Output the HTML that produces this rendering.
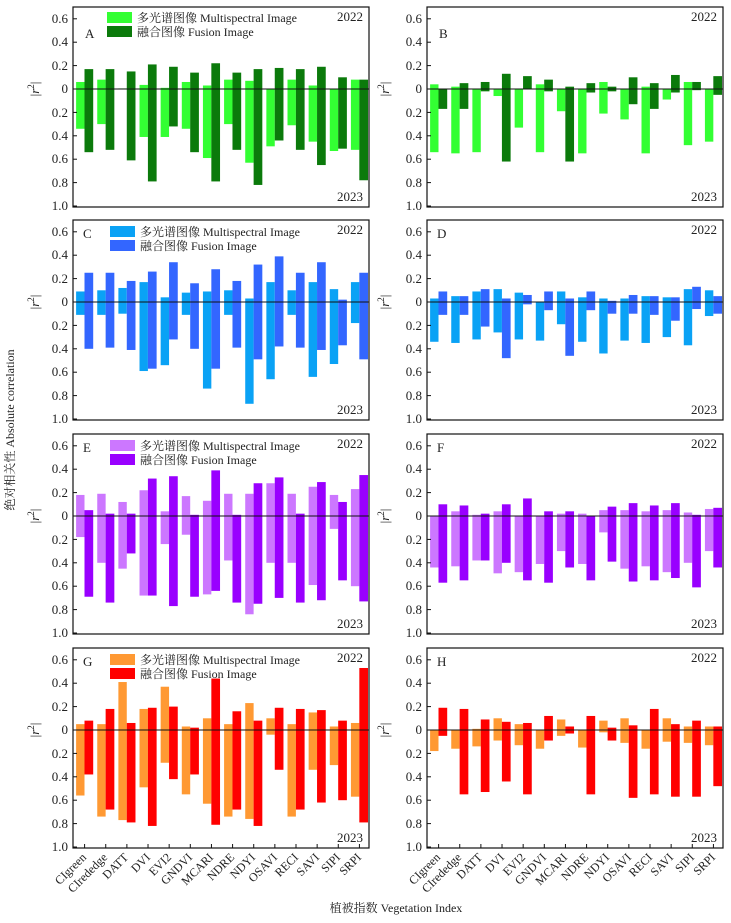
<!DOCTYPE html>
<html><head><meta charset="utf-8">
<style>
html,body{margin:0;padding:0;background:#fff;}
svg{display:block;font-family:"Liberation Serif","Noto Serif CJK SC",serif;}
text{fill:#222;}
.t text{font-size:13px;}
</style></head><body>
<svg id="s" width="731" height="923" viewBox="0 0 731 923" xmlns="http://www.w3.org/2000/svg">
<g id="bars"></g>
<g font-size="12">
<text transform="translate(14,430) rotate(-90)" text-anchor="middle" font-size="12">绝对相关性 Absolute correlation</text>
<text x="396" y="912" text-anchor="middle" font-size="12">植被指数 Vegetation Index</text>
</g>
<g id="panels" font-size="12">
<!-- A -->
<g transform="translate(73,7)">
<g class="t"><text x="-5" y="16" text-anchor="end">0.6</text><text x="-5" y="39" text-anchor="end">0.4</text><text x="-5" y="63" text-anchor="end">0.2</text><text x="-5" y="86" text-anchor="end">0</text><text x="-5" y="110" text-anchor="end">0.2</text><text x="-5" y="133" text-anchor="end">0.4</text><text x="-5" y="156" text-anchor="end">0.6</text><text x="-5" y="180" text-anchor="end">0.8</text><text x="-5" y="203" text-anchor="end">1.0</text></g>
<text transform="translate(-34,82) rotate(-90)" text-anchor="middle" font-size="13">|<tspan font-style="italic">r</tspan><tspan dy="-5" font-size="9">2</tspan><tspan dy="5">|</tspan></text>
<text x="12" y="31" font-size="13">A</text><text x="290" y="14" text-anchor="end" font-size="13">2022</text><text x="290" y="194" text-anchor="end" font-size="13">2023</text>
<rect x="34" y="5" width="25" height="11" fill="#33ff33"/><rect x="34" y="19" width="25" height="11" fill="#0b7a0b"/>
<text x="64" y="15">多光谱图像 Multispectral Image</text><text x="64" y="29">融合图像 Fusion Image</text>
</g>
<!-- B -->
<g transform="translate(427,7)">
<g class="t"><text x="-5" y="16" text-anchor="end">0.6</text><text x="-5" y="39" text-anchor="end">0.4</text><text x="-5" y="63" text-anchor="end">0.2</text><text x="-5" y="86" text-anchor="end">0</text><text x="-5" y="110" text-anchor="end">0.2</text><text x="-5" y="133" text-anchor="end">0.4</text><text x="-5" y="156" text-anchor="end">0.6</text><text x="-5" y="180" text-anchor="end">0.8</text><text x="-5" y="203" text-anchor="end">1.0</text></g>
<text transform="translate(-38,82) rotate(-90)" text-anchor="middle" font-size="13">|<tspan font-style="italic">r</tspan><tspan dy="-5" font-size="9">2</tspan><tspan dy="5">|</tspan></text>
<text x="12" y="31" font-size="13">B</text><text x="290" y="14" text-anchor="end" font-size="13">2022</text><text x="290" y="194" text-anchor="end" font-size="13">2023</text>
</g>
<!-- C -->
<g transform="translate(73,220)">
<g class="t"><text x="-5" y="16" text-anchor="end">0.6</text><text x="-5" y="39" text-anchor="end">0.4</text><text x="-5" y="63" text-anchor="end">0.2</text><text x="-5" y="86" text-anchor="end">0</text><text x="-5" y="110" text-anchor="end">0.2</text><text x="-5" y="133" text-anchor="end">0.4</text><text x="-5" y="156" text-anchor="end">0.6</text><text x="-5" y="180" text-anchor="end">0.8</text><text x="-5" y="203" text-anchor="end">1.0</text></g>
<text transform="translate(-34,82) rotate(-90)" text-anchor="middle" font-size="13">|<tspan font-style="italic">r</tspan><tspan dy="-5" font-size="9">2</tspan><tspan dy="5">|</tspan></text>
<text x="10" y="18" font-size="13">C</text><text x="290" y="14" text-anchor="end" font-size="13">2022</text><text x="290" y="194" text-anchor="end" font-size="13">2023</text>
<rect x="37" y="6" width="25" height="11" fill="#0aa2f5"/><rect x="37" y="20" width="25" height="11" fill="#3366ff"/>
<text x="67" y="16">多光谱图像 Multispectral Image</text><text x="67" y="30">融合图像 Fusion Image</text>
</g>
<!-- D -->
<g transform="translate(427,220)">
<g class="t"><text x="-5" y="16" text-anchor="end">0.6</text><text x="-5" y="39" text-anchor="end">0.4</text><text x="-5" y="63" text-anchor="end">0.2</text><text x="-5" y="86" text-anchor="end">0</text><text x="-5" y="110" text-anchor="end">0.2</text><text x="-5" y="133" text-anchor="end">0.4</text><text x="-5" y="156" text-anchor="end">0.6</text><text x="-5" y="180" text-anchor="end">0.8</text><text x="-5" y="203" text-anchor="end">1.0</text></g>
<text transform="translate(-38,82) rotate(-90)" text-anchor="middle" font-size="13">|<tspan font-style="italic">r</tspan><tspan dy="-5" font-size="9">2</tspan><tspan dy="5">|</tspan></text>
<text x="10" y="18" font-size="13">D</text><text x="290" y="14" text-anchor="end" font-size="13">2022</text><text x="290" y="194" text-anchor="end" font-size="13">2023</text>
</g>
<!-- E -->
<g transform="translate(73,434)">
<g class="t"><text x="-5" y="16" text-anchor="end">0.6</text><text x="-5" y="39" text-anchor="end">0.4</text><text x="-5" y="63" text-anchor="end">0.2</text><text x="-5" y="86" text-anchor="end">0</text><text x="-5" y="110" text-anchor="end">0.2</text><text x="-5" y="133" text-anchor="end">0.4</text><text x="-5" y="156" text-anchor="end">0.6</text><text x="-5" y="180" text-anchor="end">0.8</text><text x="-5" y="203" text-anchor="end">1.0</text></g>
<text transform="translate(-34,82) rotate(-90)" text-anchor="middle" font-size="13">|<tspan font-style="italic">r</tspan><tspan dy="-5" font-size="9">2</tspan><tspan dy="5">|</tspan></text>
<text x="10" y="18" font-size="13">E</text><text x="290" y="14" text-anchor="end" font-size="13">2022</text><text x="290" y="194" text-anchor="end" font-size="13">2023</text>
<rect x="37" y="6" width="25" height="11" fill="#cc77ff"/><rect x="37" y="20" width="25" height="11" fill="#9900ff"/>
<text x="67" y="16">多光谱图像 Multispectral Image</text><text x="67" y="30">融合图像 Fusion Image</text>
</g>
<!-- F -->
<g transform="translate(427,434)">
<g class="t"><text x="-5" y="16" text-anchor="end">0.6</text><text x="-5" y="39" text-anchor="end">0.4</text><text x="-5" y="63" text-anchor="end">0.2</text><text x="-5" y="86" text-anchor="end">0</text><text x="-5" y="110" text-anchor="end">0.2</text><text x="-5" y="133" text-anchor="end">0.4</text><text x="-5" y="156" text-anchor="end">0.6</text><text x="-5" y="180" text-anchor="end">0.8</text><text x="-5" y="203" text-anchor="end">1.0</text></g>
<text transform="translate(-38,82) rotate(-90)" text-anchor="middle" font-size="13">|<tspan font-style="italic">r</tspan><tspan dy="-5" font-size="9">2</tspan><tspan dy="5">|</tspan></text>
<text x="10" y="18" font-size="13">F</text><text x="290" y="14" text-anchor="end" font-size="13">2022</text><text x="290" y="194" text-anchor="end" font-size="13">2023</text>
</g>
<!-- G -->
<g transform="translate(73,648)">
<g class="t"><text x="-5" y="16" text-anchor="end">0.6</text><text x="-5" y="39" text-anchor="end">0.4</text><text x="-5" y="63" text-anchor="end">0.2</text><text x="-5" y="86" text-anchor="end">0</text><text x="-5" y="110" text-anchor="end">0.2</text><text x="-5" y="133" text-anchor="end">0.4</text><text x="-5" y="156" text-anchor="end">0.6</text><text x="-5" y="180" text-anchor="end">0.8</text><text x="-5" y="203" text-anchor="end">1.0</text></g>
<text transform="translate(-34,82) rotate(-90)" text-anchor="middle" font-size="13">|<tspan font-style="italic">r</tspan><tspan dy="-5" font-size="9">2</tspan><tspan dy="5">|</tspan></text>
<text x="10" y="18" font-size="13">G</text><text x="290" y="14" text-anchor="end" font-size="13">2022</text><text x="290" y="194" text-anchor="end" font-size="13">2023</text>
<rect x="37" y="6" width="25" height="11" fill="#ff9933"/><rect x="37" y="20" width="25" height="11" fill="#ff0000"/>
<text x="67" y="16">多光谱图像 Multispectral Image</text><text x="67" y="30">融合图像 Fusion Image</text>
</g>
<!-- H -->
<g transform="translate(427,648)">
<g class="t"><text x="-5" y="16" text-anchor="end">0.6</text><text x="-5" y="39" text-anchor="end">0.4</text><text x="-5" y="63" text-anchor="end">0.2</text><text x="-5" y="86" text-anchor="end">0</text><text x="-5" y="110" text-anchor="end">0.2</text><text x="-5" y="133" text-anchor="end">0.4</text><text x="-5" y="156" text-anchor="end">0.6</text><text x="-5" y="180" text-anchor="end">0.8</text><text x="-5" y="203" text-anchor="end">1.0</text></g>
<text transform="translate(-38,82) rotate(-90)" text-anchor="middle" font-size="13">|<tspan font-style="italic">r</tspan><tspan dy="-5" font-size="9">2</tspan><tspan dy="5">|</tspan></text>
<text x="10" y="18" font-size="13">H</text><text x="290" y="14" text-anchor="end" font-size="13">2022</text><text x="290" y="194" text-anchor="end" font-size="13">2023</text>
</g>
<g font-size="12" text-anchor="end">
<text transform="translate(87,858) rotate(-45)">CIgreen</text>
<text transform="translate(108,858) rotate(-45)">CIrededge</text>
<text transform="translate(129,858) rotate(-45)">DATT</text>
<text transform="translate(151,858) rotate(-45)">DVI</text>
<text transform="translate(172,858) rotate(-45)">EVI2</text>
<text transform="translate(193,858) rotate(-45)">GNDVI</text>
<text transform="translate(214,858) rotate(-45)">MCARI</text>
<text transform="translate(235,858) rotate(-45)">NDRE</text>
<text transform="translate(256,858) rotate(-45)">NDYI</text>
<text transform="translate(278,858) rotate(-45)">OSAVI</text>
<text transform="translate(299,858) rotate(-45)">RECI</text>
<text transform="translate(320,858) rotate(-45)">SAVI</text>
<text transform="translate(341,858) rotate(-45)">SIPI</text>
<text transform="translate(362,858) rotate(-45)">SRPI</text>
<text transform="translate(441,858) rotate(-45)">CIgreen</text>
<text transform="translate(462,858) rotate(-45)">CIrededge</text>
<text transform="translate(483,858) rotate(-45)">DATT</text>
<text transform="translate(505,858) rotate(-45)">DVI</text>
<text transform="translate(526,858) rotate(-45)">EVI2</text>
<text transform="translate(547,858) rotate(-45)">GNDVI</text>
<text transform="translate(568,858) rotate(-45)">MCARI</text>
<text transform="translate(589,858) rotate(-45)">NDRE</text>
<text transform="translate(610,858) rotate(-45)">NDYI</text>
<text transform="translate(632,858) rotate(-45)">OSAVI</text>
<text transform="translate(653,858) rotate(-45)">RECI</text>
<text transform="translate(674,858) rotate(-45)">SAVI</text>
<text transform="translate(695,858) rotate(-45)">SIPI</text>
<text transform="translate(716,858) rotate(-45)">SRPI</text>
</g>
</g>
</svg>
<script>
var P=[
[73,7,"#33ff33","#0b7a0b",[[.06,.34,.17,.54],[.08,.30,.17,.52],[.005,0,.15,.61],[.035,.41,.21,.79],[.01,.41,.19,.32],[.06,.34,.14,.54],[.03,.59,.22,.79],[.08,.30,.14,.52],[.07,.63,.17,.82],[0,.49,.18,.44],[.08,.31,.17,.52],[.03,.45,.19,.65],[0,.53,.10,.51],[.08,.52,.08,.78]]],
[427,7,"#33ff33","#0b7a0b",[[.04,.54,0,.17],[.02,.55,.05,.17],[0,.54,.06,.02],[0,.06,.13,.62],[0,.33,.11,0],[.04,.54,.08,.02],[0,.19,.02,.62],[0,.55,.05,.03],[.06,.21,.02,.02],[0,.26,.10,.13],[.02,.55,.05,.17],[0,.09,.12,.03],[.06,.48,.06,.01],[0,.45,.11,.05]]],
[73,220,"#0aa2f5","#3366ff",[[.09,.11,.25,.40],[.10,.11,.25,.39],[.12,.10,.18,.41],[.17,.59,.26,.57],[.04,.54,.34,.32],[.08,.11,.16,.40],[.09,.74,.28,.57],[.10,.11,.18,.39],[.03,.87,.32,.49],[.17,.66,.39,.38],[.10,.11,.25,.39],[.17,.64,.34,.41],[.11,.53,.02,.37],[.17,.18,.25,.49]]],
[427,220,"#0aa2f5","#3366ff",[[.03,.34,.09,.11],[.05,.35,.05,.11],[.09,.32,.11,.21],[.11,.26,.03,.48],[.08,.32,.06,.02],[0,.33,.09,.07],[.09,.19,.03,.46],[.04,.34,.09,.07],[.03,.44,.01,.10],[.03,.33,.06,.10],[.05,.35,.05,.11],[.04,.30,.04,.16],[.11,.37,.13,.06],[.10,.12,.05,.10]]],
[73,434,"#cc77ff","#9900ff",[[.18,.18,.05,.69],[.19,.40,.02,.74],[.12,.45,.02,.32],[.22,.68,.32,.68],[.04,.24,.34,.77],[.17,.16,.01,.69],[.13,.67,.39,.64],[.19,.38,.01,.74],[.19,.84,.28,.75],[.28,.40,.33,.70],[.19,.40,.02,.74],[.25,.59,.29,.72],[.18,.11,.12,.55],[.23,.60,.35,.73]]],
[427,434,"#cc77ff","#9900ff",[[0,.44,.10,.57],[.04,.43,.09,.55],[.01,.38,.02,.38],[.04,.49,.10,.40],[0,.48,.15,.55],[0,.41,.04,.57],[.02,.30,.04,.44],[.02,.41,0,.55],[.05,.14,.08,.39],[.05,.45,.11,.56],[.04,.43,.09,.55],[.05,.48,.11,.53],[.03,.40,.01,.61],[.06,.30,.07,.44]]],
[73,648,"#ff9933","#ff0000",[[.05,.56,.08,.38],[.05,.74,.18,.68],[.41,.77,.06,.79],[.18,.49,.19,.82],[.37,.28,.20,.42],[.03,.55,.02,.38],[.10,.63,.44,.81],[.05,.74,.16,.68],[.23,.76,.08,.82],[.10,.04,.19,.34],[.05,.74,.18,.68],[.15,.34,.17,.62],[.03,.30,.08,.60],[.06,.57,.53,.79]]],
[427,648,"#ff9933","#ff0000",[[0,.18,.19,.05],[0,.16,.18,.55],[.01,.14,.09,.53],[.10,.09,.07,.44],[.05,.13,.06,.55],[0,.16,.12,.09],[.09,.05,.03,.03],[0,.15,.12,.55],[.08,.02,.02,.09],[.10,.11,.04,.58],[0,.16,.18,.55],[.10,.10,.05,.57],[.03,.11,.08,.57],[.03,.13,.03,.48]]]
];
var s="",S=117;
P.forEach(function(p){
 var x0=p[0],y0=p[1],z=y0+82;
 p[4].forEach(function(d,i){
  var lx=x0+3.1+i*21.14,dx=lx+8.4;
  s+='<rect x="'+lx+'" y="'+(z-d[0]*S)+'" width="8.4" height="'+((d[0]+d[1])*S)+'" fill="'+p[2]+'"/>';
  s+='<rect x="'+dx+'" y="'+(z-d[2]*S)+'" width="8.7" height="'+((d[2]+d[3])*S)+'" fill="'+p[3]+'"/>';
 });
 s+='<line x1="'+x0+'" x2="'+(x0+296)+'" y1="'+z+'" y2="'+z+'" stroke="#111" stroke-width="1"/>';
 s+='<rect x="'+x0+'" y="'+y0+'" width="296" height="200" fill="none" stroke="#111" stroke-width="1.2"/>';
 for(var k=-3;k<=5;k++){var ty=z+k*23.4;s+='<line x1="'+x0+'" x2="'+(x0+4)+'" y1="'+ty+'" y2="'+ty+'" stroke="#111"/>';}
 if(y0==648){for(var i=0;i<14;i++){var cx=x0+3.1+i*21.14+8.5;s+='<line x1="'+cx+'" x2="'+cx+'" y1="'+(y0+200)+'" y2="'+(y0+196)+'" stroke="#111"/>';}}
});
document.getElementById("bars").innerHTML=s;
</script>
</body></html>
